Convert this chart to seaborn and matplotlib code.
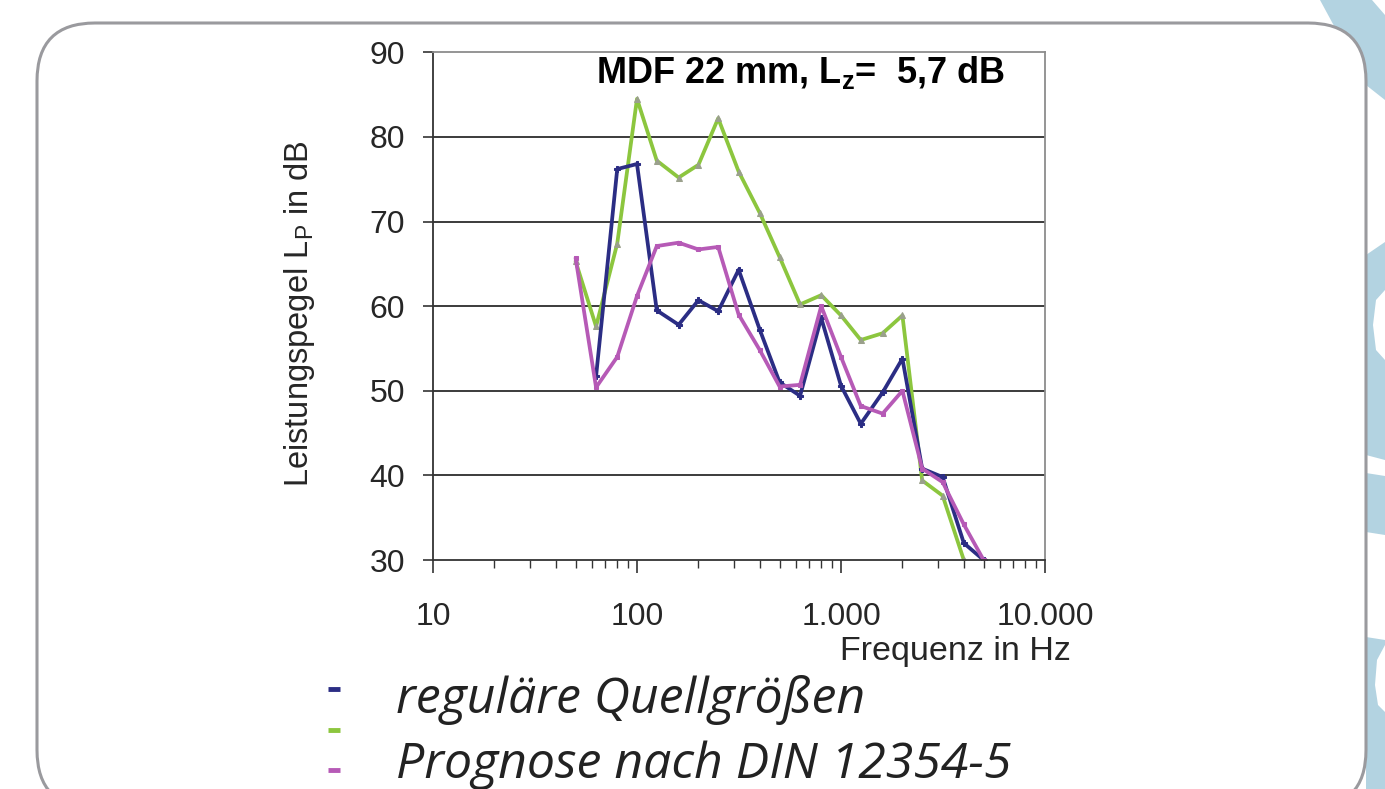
import numpy as np
import pandas as pd
import matplotlib
matplotlib.use("Agg")
import matplotlib.pyplot as plt
import matplotlib.ticker as mticker
from matplotlib.patches import FancyBboxPatch, Polygon
import seaborn as sns

# third-octave band centre frequencies in Hz
freqs = [50, 63, 80, 100, 125, 160, 200, 250, 315, 400, 500, 630,
         800, 1000, 1250, 1600, 2000, 2500, 3150, 4000, 5000]

# levels (dB), NaN where no point is drawn
regular = [np.nan, 51.7, 76.2, 76.8, 59.5, 57.8, 60.7, 59.4, 64.3, 57.2, 51.0, 49.4,
           58.6, 50.6, 46.1, 49.8, 53.8, 40.8, 39.8, 32.0, 30.0]
green_series = [65.3, 57.6, 67.4, 84.5, 77.2, 75.2, 76.7, 82.2, 75.9, 71.0, 65.8, 60.2,
                61.3, 58.9, 56.0, 56.8, 58.9, 39.4, 37.6, 30.0, np.nan]
prognose = [65.7, 50.4, 54.0, 61.2, 67.1, 67.5, 66.7, 67.0, 59.0, 54.8, 50.5, 50.7,
            60.0, 54.0, 48.2, 47.3, 50.0, 40.8, 39.2, 34.2, 30.0]

xtick_vals = [10, 100, 1000, 10000]
xtick_labels = ["10", "100", "1.000", "10.000"]
ytick_vals = [30, 40, 50, 60, 70, 80, 90]

legend_labels = ["reguläre Quellgrößen", "Prognose nach DIN 12354-5"]

navy = "#2b2d84"
green = "#8cc63e"
pink = "#b65ab6"
frame_grey = "#9a9a9e"
deco_blue = "#b3d3e1"

sns.set_style("white")
plt.rcParams["font.family"] = ["Liberation Sans", "DejaVu Sans"]
plt.rcParams["mathtext.fontset"] = "custom"
plt.rcParams["mathtext.rm"] = "Liberation Sans"
plt.rcParams["mathtext.bf"] = "Liberation Sans:bold"

fig = plt.figure(figsize=(13.85, 7.89), dpi=100)

# background layer in pixel coordinates: slide frame and decoration
bg = fig.add_axes([0, 0, 1, 1])
bg.set_xlim(0, 1385)
bg.set_ylim(789, 0)
bg.axis("off")

deco = [
    [(1320, 0), (1372, 0), (1385, 15), (1385, 100), (1366, 85)],
    [(1366, 255), (1385, 242), (1385, 290), (1376, 300), (1373, 325), (1376, 350),
     (1385, 360), (1385, 460), (1366, 455)],
    [(1366, 473), (1385, 476), (1385, 535), (1366, 532)],
    [(1366, 637), (1385, 640), (1385, 645), (1377, 660), (1375, 685), (1378, 705),
     (1385, 712), (1385, 789), (1366, 789)],
]
for pts in deco:
    bg.add_patch(Polygon(pts, closed=True, facecolor=deco_blue, edgecolor="none"))

bg.add_patch(FancyBboxPatch((37, 23), 1329, 785, boxstyle="round,pad=0,rounding_size=58",
                            facecolor="white", edgecolor=frame_grey, linewidth=2.2))

# legend drawn as in the slide: three short dashes, two text lines
for yy, c in zip([689, 730, 770], [navy, green, pink]):
    bg.plot([328, 340], [yy, yy], color=c, linewidth=3.5, solid_capstyle="butt")
bg.text(396, 700, legend_labels[0], fontsize=36, style="italic", family="Open Sans",
        color="#222222", va="center", ha="left")
bg.text(396, 765, legend_labels[1], fontsize=36, style="italic", family="Open Sans",
        color="#222222", va="center", ha="left")

bg.text(800, 72, r"MDF 22 mm, L$_\mathbf{z}$=  5,7 dB", fontsize=26, fontweight="bold",
        ha="center", va="center", color="black")

# main chart (transparent so the title behind stays visible)
ax = fig.add_axes([433 / 1385, 1 - 560 / 789, 612 / 1385, 507.7 / 789])
ax.set_facecolor("none")

df = pd.DataFrame({"freq": freqs, "regular": regular, "green": green_series, "prognose": prognose})
sns.lineplot(data=df, x="freq", y="green", ax=ax, color=green, linewidth=2.7,
             marker="^", markersize=4, markeredgecolor="#9aa08c", markerfacecolor="#9aa08c")
sns.lineplot(data=df, x="freq", y="regular", ax=ax, color=navy, linewidth=2.7,
             marker="P", markersize=4.5, markeredgecolor=navy)
sns.lineplot(data=df, x="freq", y="prognose", ax=ax, color=pink, linewidth=2.7,
             marker="s", markersize=3.5, markeredgecolor=pink)

ax.set_xscale("log")
ax.set_xlim(10, 10000)
ax.set_ylim(30, 90)
ax.set_yticks(ytick_vals)
ax.set_xticks(xtick_vals)
ax.set_xticklabels(xtick_labels)
ax.xaxis.set_minor_locator(mticker.LogLocator(base=10, subs=np.arange(2, 10)))
ax.xaxis.set_minor_formatter(mticker.NullFormatter())

for y in ytick_vals[1:-1]:
    ax.axhline(y, color="#1a1a1a", linewidth=1.2, zorder=0)

for side in ["left", "bottom"]:
    ax.spines[side].set_color("#333333")
    ax.spines[side].set_linewidth(1.3)
for side in ["top", "right"]:
    ax.spines[side].set_color("#8c8c8c")
    ax.spines[side].set_linewidth(1.3)

ax.tick_params(axis="y", which="major", direction="out", length=7, width=1.2,
               color="#333333", labelsize=23, pad=13, left=True)
ax.tick_params(axis="x", which="major", direction="out", length=9, width=1.2,
               color="#333333", labelsize=23, pad=21, bottom=True)
ax.tick_params(axis="x", which="minor", direction="out", length=6, width=1.0,
               color="#333333", bottom=True)

ax.set_xlabel("Frequenz in Hz", fontsize=24.5, ha="right")
ax.xaxis.set_label_coords(1.043, -0.15)
ax.set_ylabel(r"Leistungspegel L$_\mathrm{P}$ in dB", fontsize=23.5)
ax.yaxis.set_label_coords(-0.19, 0.485)

fig.savefig("out.png", dpi=100)
